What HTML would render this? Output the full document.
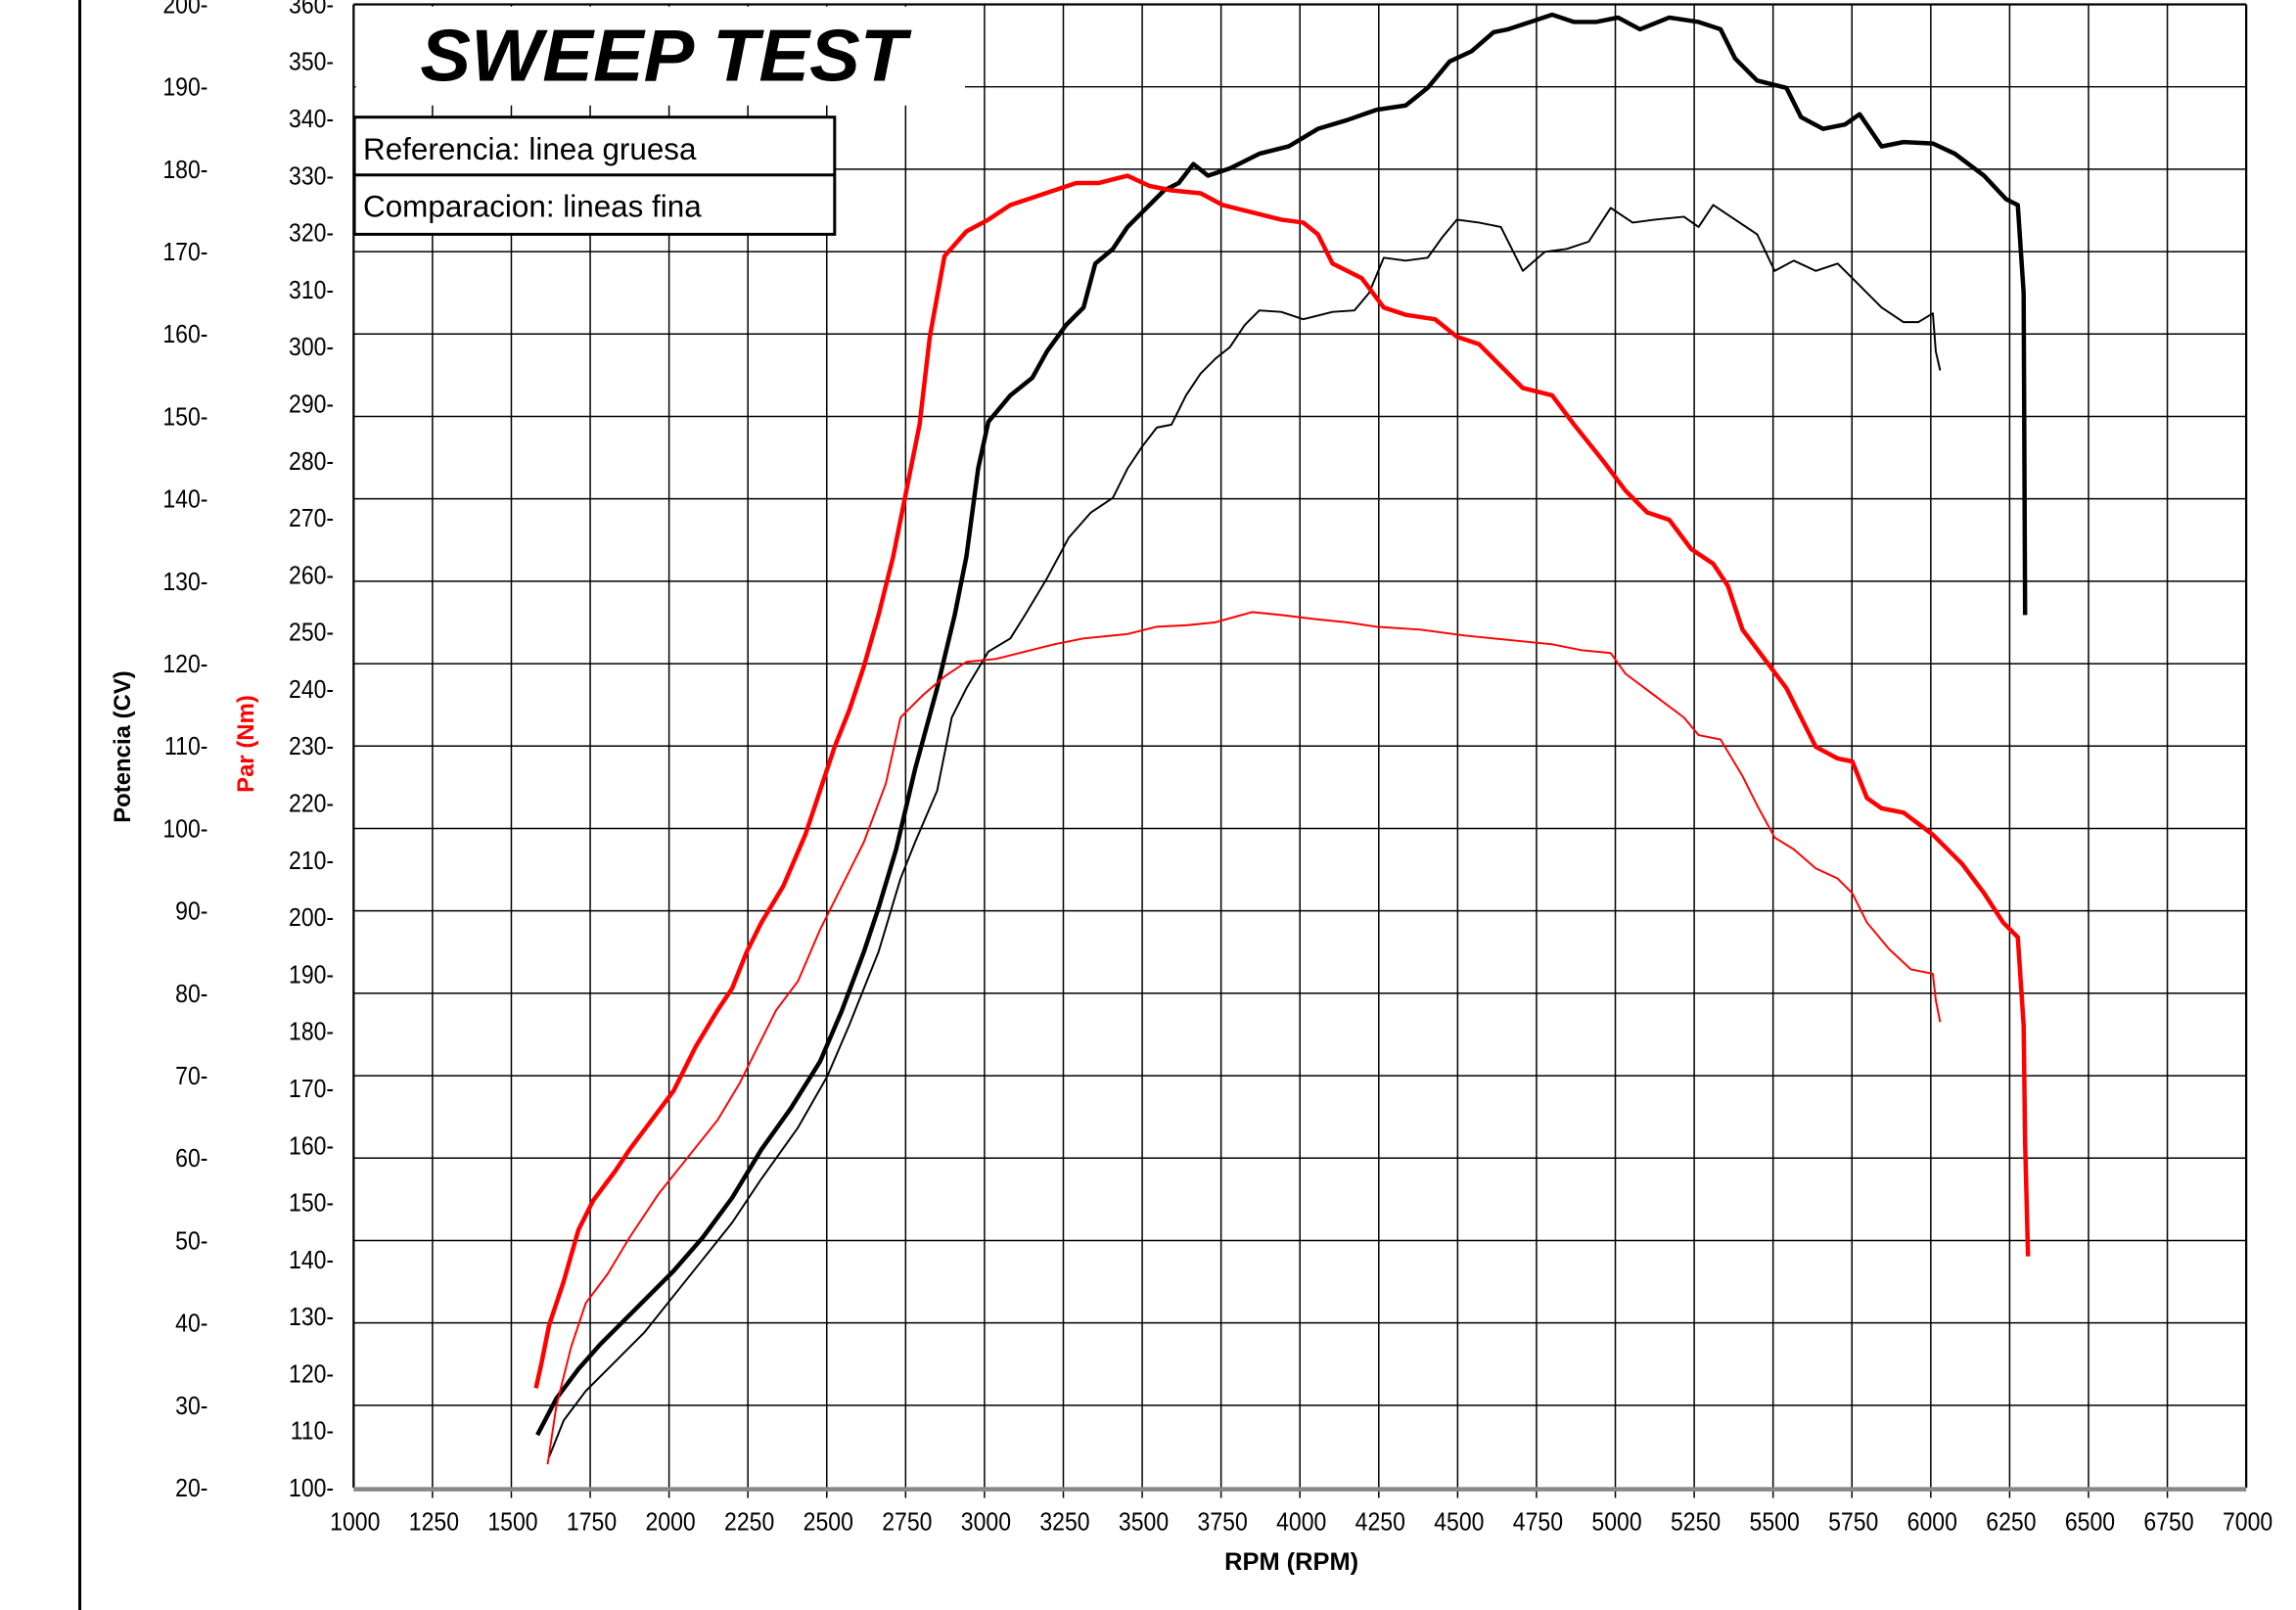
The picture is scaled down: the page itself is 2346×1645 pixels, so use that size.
<!DOCTYPE html>
<html><head><meta charset="utf-8"><style>
html,body{margin:0;padding:0;background:#fff;}
svg{display:block;}
text{font-family:"Liberation Sans",sans-serif;}
</style></head><body>
<svg width="2346" height="1645" viewBox="0 0 1568 1099.5" preserveAspectRatio="none" xmlns="http://www.w3.org/2000/svg">
<rect width="1568" height="1100" fill="#fff"/>
<line x1="54.5" y1="0" x2="54.5" y2="1100" stroke="#000" stroke-width="2"/>
<g id="grid" stroke="#000" stroke-width="1">
</g>
<g id="labels" font-size="17.5" fill="#000"></g>
<rect x="243" y="4.5" width="416" height="67.5" fill="#fff"/>
<text x="287" y="55" font-size="50" font-weight="bold" font-style="italic" textLength="332" lengthAdjust="spacingAndGlyphs">SWEEP TEST</text>
<rect x="242" y="80" width="328" height="80" fill="#fff" stroke="#000" stroke-width="2"/>
<line x1="242" y1="119.5" x2="570" y2="119.5" stroke="#000" stroke-width="2"/>
<text x="248" y="109" font-size="21">Referencia: linea gruesa</text>
<text x="248" y="148" font-size="21">Comparacion: lineas fina</text>
<g fill="none" stroke-linejoin="round">
<polyline stroke="#000" stroke-width="3" points="367,980 380,955 395,935 410,918 430,898 460,868 480,845 500,818 520,785 540,757 560,725 575,690 590,650 600,620 612,580 625,525 640,470 652,420 660,380 668,320 675,288 690,270 705,258 715,240 728,222 740,210 748,180 760,170 770,155 780,145 795,130 805,125 815,112 825,120 840,115 860,105 880,100 900,88 920,82 940,75 960,72 975,60 990,42 1005,35 1020,22 1030,20 1045,15 1060,10 1075,15 1090,15 1105,12 1120,20 1140,12 1160,15 1175,20 1185,40 1200,55 1220,60 1230,80 1245,88 1260,85 1270,78 1285,100 1300,97 1320,98 1335,105 1355,120 1370,136 1378,140 1382,200 1383,420"/>
<polyline stroke="#000" stroke-width="1.3" points="375,995 385,970 400,950 420,930 440,910 460,885 480,860 500,835 520,805 545,770 565,735 580,700 600,650 615,600 625,575 640,540 650,490 660,470 675,445 690,436 700,420 715,395 730,367 745,350 760,340 770,320 780,305 790,292 800,290 810,270 820,255 830,245 840,237 850,222 860,212 875,213 890,218 910,213 925,212 935,200 945,176 960,178 975,176 985,162 995,150 1010,152 1025,155 1040,185 1055,172 1070,170 1085,165 1100,142 1115,152 1130,150 1150,148 1160,155 1170,140 1185,150 1200,160 1212,185 1225,178 1240,185 1255,180 1270,195 1285,210 1300,220 1310,220 1320,214 1322,240 1325,253"/>
<polyline stroke="#f00" stroke-width="3" points="366,948 370,930 375,905 385,875 395,840 405,820 420,800 430,785 445,765 460,745 475,715 490,690 500,675 510,650 520,630 535,605 550,570 560,540 570,510 580,485 590,455 600,420 610,380 620,330 628,290 635,230 645,175 660,158 675,150 690,140 705,135 720,130 735,125 750,125 770,120 785,127 800,130 820,132 835,140 855,145 875,150 890,152 900,160 910,180 930,190 945,210 960,215 980,218 995,230 1010,235 1025,250 1040,265 1060,270 1075,290 1095,315 1110,335 1125,350 1140,355 1155,375 1170,385 1180,400 1190,430 1205,450 1220,470 1230,490 1240,510 1255,518 1265,520 1275,545 1285,552 1300,555 1320,570 1340,590 1355,610 1368,630 1378,640 1382,700 1383,780 1385,858"/>
<polyline stroke="#f00" stroke-width="1.3" points="374,1000 380,960 390,920 400,890 415,870 430,845 450,815 470,790 490,765 505,740 515,720 530,690 545,670 560,635 575,605 590,575 605,535 615,490 630,475 645,462 660,452 680,450 700,445 720,440 740,436 770,433 790,428 810,427 830,425 855,418 875,420 900,423 920,425 940,428 970,430 1000,434 1030,437 1060,440 1080,444 1100,446 1110,460 1130,475 1150,490 1160,502 1175,505 1190,530 1200,550 1212,572 1225,580 1240,593 1255,600 1265,610 1275,630 1290,648 1305,662 1320,665 1322,683 1325,698"/>
</g>
<text x="882" y="1072" font-size="17" font-weight="bold" text-anchor="middle">RPM (RPM)</text>
<text transform="translate(89,510) rotate(-90)" font-size="16" font-weight="bold" text-anchor="middle">Potencia (CV)</text>
<text transform="translate(173,508) rotate(-90)" font-size="16" font-weight="bold" fill="#f00" text-anchor="middle">Par (Nm)</text>
<script>
(function(){
var ns="http://www.w3.org/2000/svg",g=document.getElementById('grid'),L=document.getElementById('labels');
function ln(x1,y1,x2,y2,c,w){var e=document.createElementNS(ns,'line');e.setAttribute('x1',x1);e.setAttribute('y1',y1);e.setAttribute('x2',x2);e.setAttribute('y2',y2);e.setAttribute('stroke',c||'#000');e.setAttribute('stroke-width',w||1);g.appendChild(e);}
function tx(x,y,s,a){var e=document.createElementNS(ns,'text');e.setAttribute('x',x);e.setAttribute('y',y);e.setAttribute('text-anchor',a||'end');e.setAttribute('transform','translate('+x+' 0) scale(0.88 1) translate('+(-x)+' 0)');e.textContent=s;L.appendChild(e);}
var X0=241.5,X1=1534,Y0=1016,YT=3;
for(var i=0;i<=24;i++){var x=X0+i*(X1-X0)/24;ln(x,YT,x,Y0+(i>0&&i<24?7:0),'#000',i==0||i==24?1.5:1);tx(x+1,1045,String(1000+i*250),'middle');}
var cvs=(Y0-YT)/18;
for(var v=20;v<=200;v+=10){var y=Y0-(v-20)/10*cvs;if(v>20&&v<200)ln(X0,y,X1,y);tx(142,y+6,v+'-');}
var ts=(Y0-YT)/26;
for(var t=100;t<=360;t+=10){var y=Y0-(t-100)/10*ts;tx(228,y+6,t+'-');}
ln(X0,YT,X1,YT,'#000',1.5);
ln(X0,Y0+1,X1,Y0+1,'#888',3);
})();
</script>
</svg>
</body></html>
